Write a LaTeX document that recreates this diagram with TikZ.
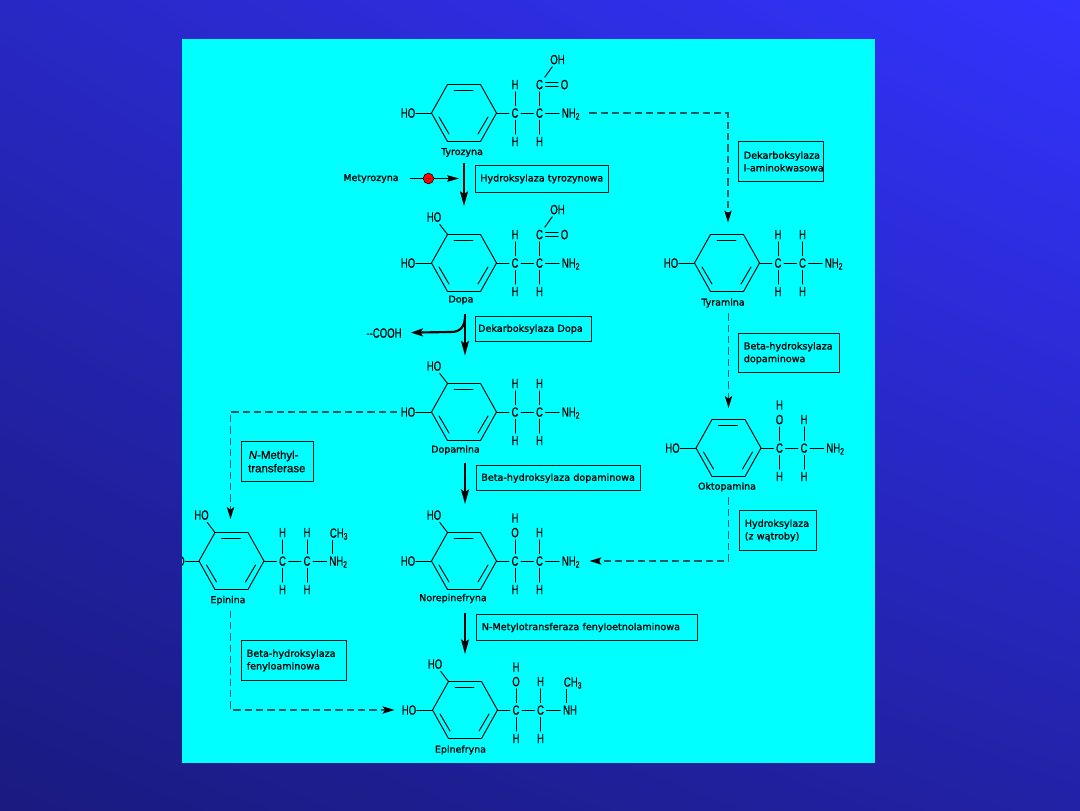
\documentclass[tikz,border=0pt]{standalone}
\usepackage{fontspec}
\usetikzlibrary{arrows.meta, shadings}
\newfontfamily\atomfont[FakeStretch=0.72, FakeBold=0.4]{Liberation Sans}
\newfontfamily\namefont[FakeBold=1]{DejaVu Sans}
\newfontfamily\methylfont[FakeBold=0.8]{Liberation Sans}
\definecolor{panelcyan}{HTML}{00FFFF}
\definecolor{slidetl}{HTML}{2828C4}
\definecolor{slidetr}{HTML}{3333FF}
\definecolor{slidebl}{HTML}{1A1A80}
\definecolor{slidebr}{HTML}{2222A6}
\definecolor{dashteal}{HTML}{0E5A60}
\tikzset{
  bond/.style={line width=0.7pt, black, line cap=round},
  atom/.style={font=\atomfont\fontsize{10}{11}\selectfont, inner sep=2pt, outer sep=0pt,
    text height=7pt, text depth=0pt},
  hydroxy/.style={atom, inner xsep=0.5pt},
  molname/.style={font=\namefont\fontsize{7.1}{9}\selectfont, inner sep=1pt},
  enzyme/.style={draw=black!80!teal, line width=0.7pt, anchor=north west, align=left, inner xsep=4pt,
    inner ysep=0pt, font=\namefont\fontsize{7.2}{9.5}\selectfont},
  mainarrow/.style={line width=1.3pt, -{Stealth[length=11pt, width=6pt, inset=2pt]}, shorten <=3pt},
  dashline/.style={line width=0.95pt, dashteal, dash pattern=on 5.5pt off 3pt,
    -{Stealth[length=9pt, width=5.5pt, inset=2pt, black]}},
  thinarrow/.style={line width=0.7pt, -{Stealth[length=9pt, width=5pt, inset=1.5pt]}}
}
% ring, ring-side HO and the carbons of the chain
\newcommand{\molecule}[4][-56]{%
  \begin{scope}[shift={(#3,#4)}]
    \coordinate (#2w) at (-32.5,0);
    \coordinate (#2nw) at (-16.5,-28.5);
    \coordinate (#2ne) at (16.5,-28.5);
    \coordinate (#2e) at (32.5,0);
    \coordinate (#2se) at (16.5,28.5);
    \coordinate (#2sw) at (-16.5,28.5);
    \draw[bond] (#2w) -- (#2nw) -- (#2ne) -- (#2e) -- (#2se) -- (#2sw) -- cycle;
    \draw[bond] (-10,-23) -- (9,-23);
    \draw[bond] (-25,4) -- (-15,21);
    \draw[bond] (24,4) -- (14,21);
    \node[hydroxy] (#2ho) at (#1,0) {HO};
    \node[atom] (#2ca) at (51,0) {C};
    \node[atom] (#2cb) at (75.5,0) {C};
    \node[atom] (#2had) at (51,28.5) {H};
    \node[atom] (#2hbd) at (75.5,28.5) {H};
    \draw[bond] (#2w) -- (#2ho);
    \draw[bond] (#2e) -- (#2ca);
    \draw[bond] (#2ca) -- (#2cb);
    \draw[bond] (#2ca) -- (#2had);
    \draw[bond] (#2cb) -- (#2hbd);
  \end{scope}}
\newcommand{\orthoho}[1]{%
  \path (#1nw) ++(-13.5,-17.5) node[hydroxy] (#1hoo) {HO};
  \draw[bond] (#1nw) -- (#1hoo);}
\newcommand{\hatom}[2]{%
  \path (#2) ++(0,-28.5) node[atom] (#1) {H};
  \draw[bond] (#2) -- (#1);}
\newcommand{\hydroxyl}[1]{%
  \path (#1ca) ++(0,-28.5) node[atom] (#1o) {O};
  \path (#1o) ++(0,-14.5) node[atom] (#1oh) {H};
  \draw[bond] (#1ca) -- (#1o);}
\newcommand{\amino}[1]{%
  \path (#1cb) ++(31.5,0) node[atom] (#1n) {NH\textsubscript{2}};
  \draw[bond] (#1cb) -- (#1n);}
\newcommand{\carboxyl}[1]{%
  \path (#1cb) ++(0,-28.5) node[atom] (#1cc) {C};
  \path (#1cc) ++(25,0) node[atom] (#1co) {O};
  \path (#1cc) ++(18,-25) node[hydroxy] (#1coh) {OH};
  \draw[bond] (#1cb) -- (#1cc);
  \draw[bond] ([yshift=1.4pt]#1cc.east) -- ([yshift=1.4pt]#1co.west);
  \draw[bond] ([yshift=-1.4pt]#1cc.east) -- ([yshift=-1.4pt]#1co.west);
  \draw[bond] (#1cc) -- (#1coh);}
\begin{document}
\begin{tikzpicture}[x=0.75pt, y=-0.75pt]
  \useasboundingbox (0,0) rectangle (1080,810);
  \shade[upper left=slidetl, upper right=slidetr, lower left=slidebl, lower right=slidebr]
    (0,0) rectangle (1080,810);
  \fill[panelcyan] (182,39) rectangle (875,763);
  \begin{scope}
    \clip (182,39) rectangle (875,763);

    % molecules
    \molecule{tyr}{464}{113}
    \hatom{tyrhau}{tyrca}
    \carboxyl{tyr}
    \amino{tyr}
    \molecule{dop}{464}{263}
    \orthoho{dop}
    \hatom{dophau}{dopca}
    \carboxyl{dop}
    \amino{dop}
    \molecule{dpm}{464}{412}
    \orthoho{dpm}
    \hatom{dpmhau}{dpmca}
    \hatom{dpmhbu}{dpmcb}
    \amino{dpm}
    \molecule{nor}{464}{561}
    \orthoho{nor}
    \hydroxyl{nor}
    \hatom{norhbu}{norcb}
    \amino{nor}
    \molecule{epf}{465}{710}
    \orthoho{epf}
    \hydroxyl{epf}
    \hatom{epfhbu}{epfcb}
    \molecule{tym}{727}{263}
    \hatom{tymhau}{tymca}
    \hatom{tymhbu}{tymcb}
    \amino{tym}
    \molecule{okt}{728.5}{448}
    \hydroxyl{okt}
    \hatom{okthbu}{oktcb}
    \amino{okt}
    \molecule[-54]{epn}{231.5}{561}
    \orthoho{epn}
    \hatom{epnhau}{epnca}
    \hatom{epnhbu}{epncb}
    \amino{epn}

    % N-methyl groups
    \node[atom] (epnch) at (339,533) {CH\textsubscript{3}};
    \draw[bond] ([xshift=-5pt]epnch.south) -- ([xshift=-5pt]epnch.south |- epnn.north);
    \node[atom] (epfn) at (570,710) {NH};
    \node[atom] (epfch) at (573,682) {CH\textsubscript{3}};
    \draw[bond] (epfcb) -- (epfn);
    \draw[bond] ([xshift=-5pt]epfch.south) -- ([xshift=-5pt]epfch.south |- epfn.north);

    % names
    \node[molname] (tyrname) at (462,152.5) {Tyrozyna};
    \node[molname] (dopname) at (461,300) {Dopa};
    \node[molname] (dpmname) at (455.5,450) {Dopamina};
    \node[molname] (norname) at (453,598.5) {Norepinefryna};
    \node[molname] (epfname) at (460.5,750) {Epinefryna};
    \node[molname] (tymname) at (723,303) {Tyramina};
    \node[molname] (oktname) at (727,487) {Oktopamina};
    \node[molname] (epnname) at (228,600.5) {Epinina};
    \node[molname] (mety) at (371,178.5) {Metyrozyna};
    \node[atom] (cooh) at (384,333) {--COOH};

    % enzymes
    \node[enzyme, text width=91.75pt, minimum height=20pt] (hydtyr) at (474.5,165) {\mbox{Hydroksylaza tyrozynowa}};
    \node[enzyme, inner xsep=2pt, text width=83pt, minimum height=19pt] (dekdop) at (475,316) {\mbox{Dekarboksylaza Dopa}};
    \node[enzyme, text width=115.4pt, minimum height=19pt] (betdpm) at (475.5,465) {\mbox{Beta-hydroksylaza dopaminowa}};
    \node[enzyme, text width=157.75pt, minimum height=19.5pt] (nmt) at (476,614) {\mbox{N-Metylotransferaza fenyloetnolaminowa}};
    \node[enzyme, text width=55.75pt, minimum height=30pt] (dekam) at (738,141) {\mbox{Dekarboksylaza}\\\mbox{l-aminokwasowa}};
    \node[enzyme, text width=67.75pt, minimum height=29.5pt] (bettym) at (738,333) {\mbox{Beta-hydroksylaza}\\dopaminowa};
    \node[enzyme, text width=49.75pt, minimum height=30pt] (hydwat) at (739,510) {\mbox{Hydroksylaza}\\(z wątroby)};
    \node[enzyme, text width=46pt, minimum height=30pt, font=\methylfont\fontsize{8.6}{10}\selectfont] (nmet) at (241,441) {\hspace*{1.5pt}{\itshape N}-Methyl-\\\hspace*{1pt}transferase};
    \node[enzyme, text width=70.75pt, minimum height=30pt] (betepn) at (241,640) {\mbox{Beta-hydroksylaza}\\fenyloaminowa};

    % arrow ends
    \coordinate (doptip) at (464,206);
    \coordinate (dpmtip) at (465,355.5);
    \coordinate (nortip) at (465,504);
    \coordinate (epftip) at (465,654);
    \coordinate (tymtip) at (728,222.5);
    \coordinate (okttip) at (728.5,408);
    \coordinate (epntip) at (230.5,519);
    \coordinate (metytip) at (459,178.5);
    \coordinate (branch) at (465,316);

    % main route
    \draw[mainarrow] (tyrname.south -| doptip) -- (doptip);
    \draw[mainarrow, shorten <=6pt] (dopname.south -| dpmtip) -- (dpmtip);
    \draw[mainarrow, shorten <=5pt] (dpmname.south -| nortip) -- (nortip);
    \draw[mainarrow, shorten <=6pt] (norname.south -| epftip) -- (epftip);
    \draw[line width=1.6pt, -{Stealth[length=9pt, width=6pt, inset=2pt]}, shorten >=5pt]
      (branch) .. controls (465,327) and (460,332) .. (451,332) -- (cooh);

    % inhibitor
    \node[circle, draw=black, fill=red, line width=0.4pt, minimum size=8pt, inner sep=0pt,
      font=\tiny] (block) at (428.5,178.5) {$-$};
    \draw[line width=0.7pt, shorten <=7pt] (mety) -- (block);
    \draw[thinarrow] (block) -- (metytip);

    % side routes
    \draw[dashline, shorten <=5pt] (tyrn) -| (tymtip);
    \draw[dashline, shorten <=3pt] (tymname.south -| okttip) -- (okttip);
    \draw[dashline, shorten <=3pt, shorten >=5pt] (oktname.south -| okttip) |- (norn);
    \draw[dashline, shorten <=2pt] (dpmho) -| (epntip);
    \draw[dashline, shorten <=3pt, shorten >=5pt] (epnname.south -| epntip) |- (epfho);
  \end{scope}
\end{tikzpicture}
\end{document}
